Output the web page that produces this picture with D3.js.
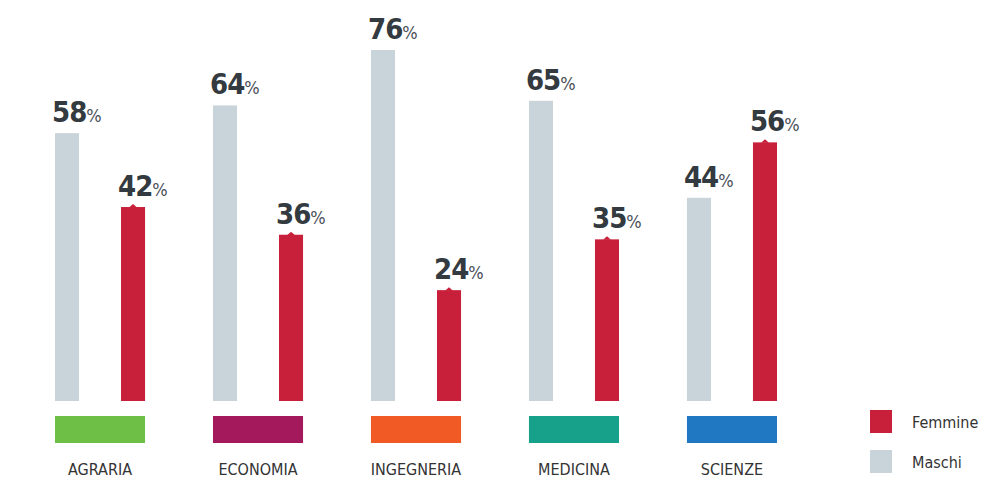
<!DOCTYPE html>
<html>
<head>
<meta charset="utf-8">
<script src="https://cdn.jsdelivr.net/npm/d3@7"></script>
<style>
  body { margin: 0; background: #fff; }
  text { font-family: "DejaVu Sans Condensed", "DejaVu Sans", sans-serif; font-stretch: condensed; }
</style>
</head>
<body>
<svg id="chart" width="981" height="480"></svg>
<script>
// data
let categories = ["AGRARIA", "ECONOMIA", "INGEGNERIA", "MEDICINA", "SCIENZE"];
let series = ["Maschi", "Femmine"];
let maschi = [58, 64, 76, 65, 44];
let femmine = [42, 36, 24, 35, 56];
let catColors = ["#6dbf45", "#a3195b", "#f15a24", "#17a08a", "#1f78c1"];
let seriesColors = {Maschi: "#c9d4da", Femmine: "#c8203a"};

// dimensions
let baseline = 401;

let svg = d3.select("#chart");

// scales
let x0 = d3.scaleBand().domain(categories).range([55, 777]).paddingInner(0.43).paddingOuter(0);
let x1 = d3.scaleBand().domain(series).range([0, x0.bandwidth()]).paddingInner(0.636).paddingOuter(0);
let y = d3.scaleLinear().domain([0, 76]).range([baseline, 50]);

let rows = categories.map(function(c, i) {
  return {cat: c, color: catColors[i], vals: [{s: "Maschi", v: maschi[i]}, {s: "Femmine", v: femmine[i]}]};
});

let groups = svg.selectAll("g.cat")
  .data(rows)
  .enter().append("g")
    .attr("class", "cat")
    .attr("transform", function(d) { return "translate(" + x0(d.cat) + ",0)"; });

// bars
groups.selectAll("rect.bar")
  .data(function(d) { return d.vals; })
  .enter().append("rect")
    .attr("class", "bar")
    .attr("x", function(d) { return x1(d.s); })
    .attr("y", function(d) { return y(d.v); })
    .attr("width", x1.bandwidth())
    .attr("height", function(d) { return baseline - y(d.v); })
    .attr("fill", function(d) { return seriesColors[d.s]; });

// little tip on top of the red bars
groups.selectAll("path.tip")
  .data(function(d) { return d.vals.filter(function(v) { return v.s === "Femmine"; }); })
  .enter().append("path")
    .attr("class", "tip")
    .attr("d", function(d) {
      let cx = x1(d.s) + x1.bandwidth() / 2, ty = y(d.v);
      return "M" + (cx - 4) + "," + (ty + 0.5) + "L" + cx + "," + (ty - 3) + "L" + (cx + 4) + "," + (ty + 0.5) + "Z";
    })
    .attr("fill", seriesColors.Femmine);

// value labels
let lbl = groups.selectAll("text.val")
  .data(function(d) { return d.vals; })
  .enter().append("text")
    .attr("class", "val")
    .attr("x", function(d) { return x1(d.s) - 3; })
    .attr("y", function(d) { return y(d.v) - 11; })
    .attr("fill", "#333a40");
lbl.append("tspan")
    .attr("font-size", 29)
    .attr("font-weight", "bold")
    .attr("letter-spacing", -1)
    .text(function(d) { return d.v; });
lbl.append("tspan")
    .attr("font-size", 18)
    .attr("fill", "#4a5058")
    .text("%");

// category colour blocks
groups.append("rect")
    .attr("x", 0)
    .attr("y", 416)
    .attr("width", x0.bandwidth())
    .attr("height", 27)
    .attr("fill", function(d) { return d.color; });

// category labels
groups.append("text")
    .attr("x", x0.bandwidth() / 2)
    .attr("y", 475)
    .attr("text-anchor", "middle")
    .attr("font-size", 16)
    .attr("fill", "#333")
    .text(function(d) { return d.cat; });

// legend
let legend = svg.selectAll("g.legend")
  .data(["Femmine", "Maschi"])
  .enter().append("g")
    .attr("class", "legend")
    .attr("transform", function(d, i) { return "translate(870," + (410 + i * 40) + ")"; });
legend.append("rect")
    .attr("width", 22)
    .attr("height", 23)
    .attr("fill", function(d) { return seriesColors[d]; });
legend.append("text")
    .attr("x", 42)
    .attr("y", 18)
    .attr("font-size", 16)
    .attr("fill", "#333")
    .text(function(d) { return d; });
</script>
</body>
</html>
